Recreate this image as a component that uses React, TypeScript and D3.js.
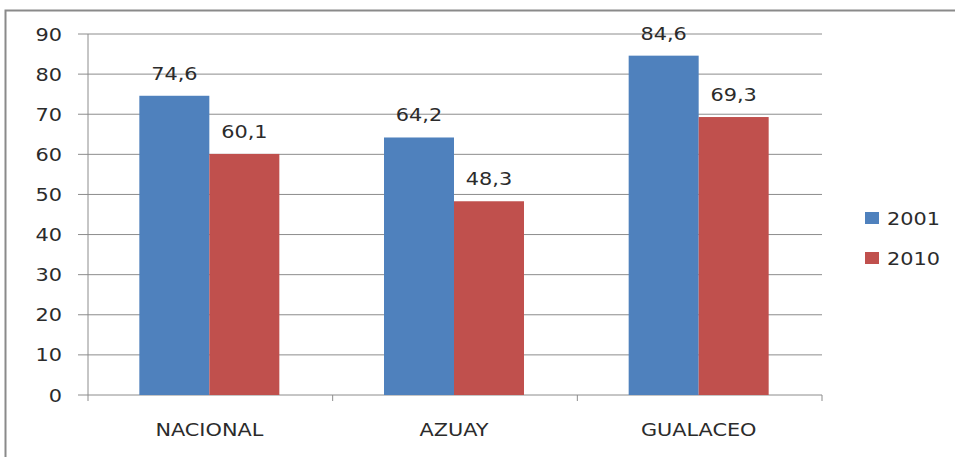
import * as d3 from "d3";

const categories = ["NACIONAL", "AZUAY", "GUALACEO"];
const series = ["2001", "2010"];
const values2001 = [74.6, 64.2, 84.6];
const values2010 = [60.1, 48.3, 69.3];
const yTicks = [0, 10, 20, 30, 40, 50, 60, 70, 80, 90];
const colors = ["#4F81BD", "#C0504D"];

const font = "DejaVu Sans, Verdana, sans-serif";

// the source picture is stretched sideways, so text gets a small x scale
const Label = ({ x, y, anchor = "middle", children }: { x: number; y: number; anchor?: string; children: any }) => (
  <text
    transform={`translate(${x},${y}) scale(1.19,1)`}
    textAnchor={anchor}
    fontFamily={font}
    fontSize={17.5}
    fill="#2b2b2b"
  >
    {children}
  </text>
);

const App = () => {
  const width = 955;
  const height = 457;
  const left = 88;
  const right = 822;
  const top = 34;
  const bottom = 395;
  const barW = 70;

  const x = d3.scaleBand(categories, [left, right]);
  const pad = (x.bandwidth() - barW * series.length) / 2;
  const inner = d3.scaleBand(series, [pad - 1, x.bandwidth() - pad - 1]);
  const y = d3.scaleLinear([0, 90], [bottom, top]);
  const data = [values2001, values2010];
  const fmt = (v: number) => v.toFixed(1).replace(".", ",");

  return (
    <svg width={width} height={height} style={{ position: "absolute", left: 0, top: 0 }}>
      <rect x={0} y={0} width={width} height={height} fill="#fff" />
      <rect x={5.5} y={10.5} width={width + 10} height={height + 10} fill="none" stroke="#8a8a8a" strokeWidth={2} />
      {yTicks.map((t) => (
        <g key={t}>
          <line x1={left - 10} x2={right} y1={y(t)} y2={y(t)} stroke="#8c8c8c" strokeWidth={1} />
          <Label x={62} y={y(t) + 6.5} anchor="end">
            {t}
          </Label>
        </g>
      ))}
      <line x1={left} x2={left} y1={top} y2={bottom} stroke="#8c8c8c" />
      {[...categories.map((c) => x(c)!), right].map((px, i) => (
        <line key={i} x1={px} x2={px} y1={bottom} y2={bottom + 6} stroke="#8c8c8c" />
      ))}
      {categories.map((c, ci) => (
        <g key={c}>
          {series.map((s, si) => {
            const bx = x(c)! + inner(s)!;
            const v = data[si][ci];
            return (
              <g key={s}>
                <rect x={bx} y={y(v)} width={inner.bandwidth()} height={bottom - y(v)} fill={colors[si]} />
                <Label x={bx + inner.bandwidth() / 2} y={y(v) - 16}>
                  {fmt(v)}
                </Label>
              </g>
            );
          })}
          <Label x={x(c)! + x.bandwidth() / 2 - 1} y={436}>
            {c}
          </Label>
        </g>
      ))}
      {series.map((s, si) => (
        <g key={s}>
          <rect x={865} y={212 + si * 40} width={14} height={12} fill={colors[si]} />
          <Label x={887} y={224.5 + si * 40} anchor="start">
            {s}
          </Label>
        </g>
      ))}
    </svg>
  );
};

export default App;
